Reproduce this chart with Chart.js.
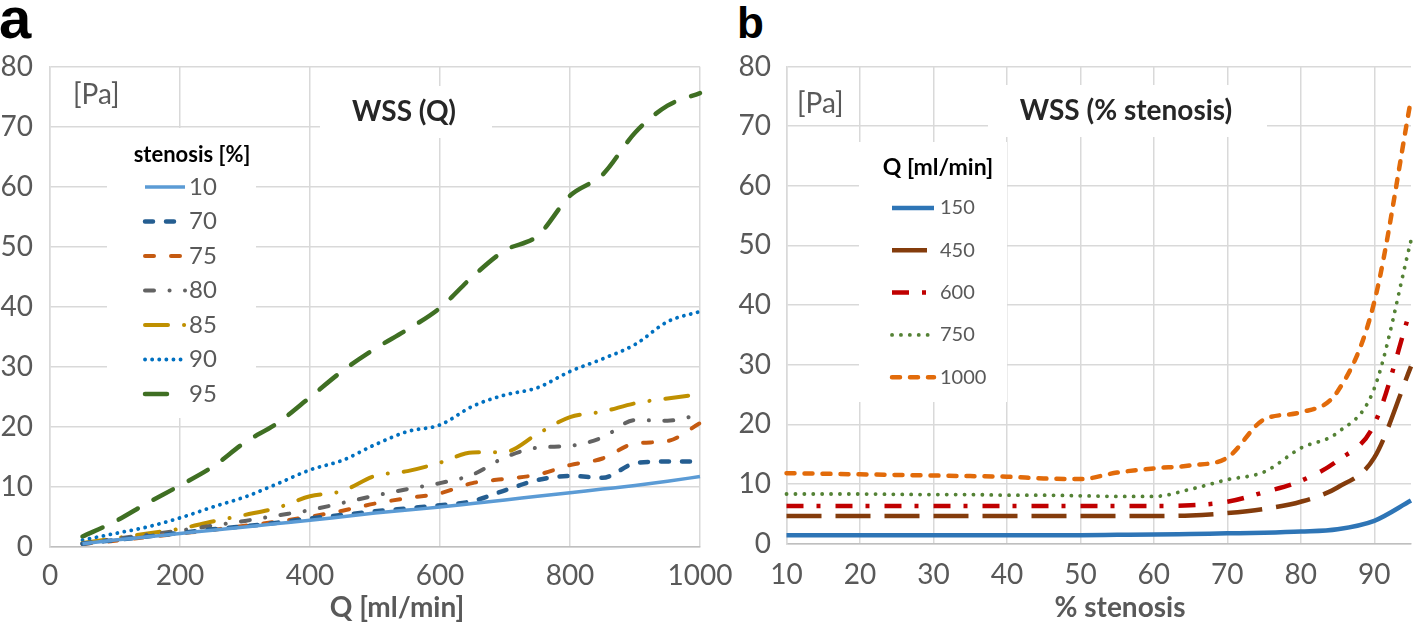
<!DOCTYPE html>
<html><head><meta charset="utf-8">
<script src="https://cdn.jsdelivr.net/npm/chart.js@4.4.1/dist/chart.umd.min.js"></script>
<style>
html,body{margin:0;padding:0;background:#fff;width:1418px;height:624px;overflow:hidden;position:relative}
#wa{position:absolute;left:0;top:0;width:745px;height:624px}
#wb{position:absolute;left:710px;top:0;width:708px;height:624px}
.pl{position:absolute;font-family:"Liberation Sans",Arial,sans-serif;font-weight:bold;color:#000;line-height:1}
</style></head><body>
<div class="pl" style="left:-1px;top:-11px;font-size:58px">a</div>
<div class="pl" style="left:737px;top:1px;font-size:44px">b</div>
<div id="wa"><canvas id="ca"></canvas></div>
<div id="wb"><canvas id="cb"></canvas></div>
<script>
// ---------- Panel a: WSS vs Q ----------
const flowQ = [50,100,150,200,250,300,350,400,450,500,550,600,650,700,750,800,850,900,950,1000];
const sten10 = [0.5,1.1,1.65,2.2,2.75,3.3,3.85,4.4,5.0,5.6,6.1,6.6,7.2,7.8,8.4,9.0,9.6,10.2,10.9,11.7];
const sten70 = [0.5,1.1,1.7,2.3,2.9,3.4,4.0,4.7,5.3,5.9,6.4,6.9,7.6,9.4,11.1,11.8,11.5,13.9,14.2,14.2];
const sten75 = [0.45,1.0,1.6,2.2,2.8,3.5,4.2,5.0,6.0,7.2,8.1,8.9,10.6,11.3,12.0,13.6,14.7,17.2,17.6,20.6];
const sten80 = [0.5,1.3,2.0,2.7,3.5,4.3,5.2,6.1,7.3,8.5,9.6,10.6,12.0,14.9,16.5,16.8,18.2,21.1,21.0,22.0];
const sten85 = [0.6,1.4,2.2,3.0,4.2,5.3,6.5,8.4,9.3,11.8,12.6,14.0,15.7,15.8,18.8,21.6,22.5,23.9,24.7,25.4];
const sten90 = [1.1,2.2,3.3,4.8,6.6,8.3,10.5,12.8,14.4,17.0,19.2,20.3,23.4,25.3,26.5,29.2,31.3,33.7,37.5,39.2];
const sten95 = [1.7,4.2,7.3,10.2,13.3,17.4,20.6,24.9,29.3,33.0,36.2,39.8,45.0,49.4,51.8,58.5,62.0,69.0,73.5,75.6];
const qTicks = [0,200,400,600,800,1000];
const wssTicks = [0,10,20,30,40,50,60,70,80];
const stenosisNames = ['10','70','75','80','85','90','95'];

// ---------- Panel b: WSS vs % stenosis ----------
const pctStenosis = [10,15,20,25,30,35,40,45,50,55,60,65,70,75,80,85,90,95];
const q150  = [1.4,1.4,1.4,1.4,1.4,1.4,1.4,1.4,1.4,1.45,1.5,1.6,1.7,1.8,2.0,2.4,3.8,7.2];
const q450  = [4.6,4.6,4.6,4.6,4.6,4.6,4.6,4.6,4.6,4.6,4.6,4.7,5.1,5.8,7.0,9.4,14.4,29.7];
const q600  = [6.3,6.3,6.3,6.3,6.3,6.3,6.3,6.3,6.3,6.3,6.3,6.4,7.0,8.6,10.5,13.9,20.0,39.5];
const q750  = [8.3,8.3,8.3,8.25,8.2,8.2,8.1,8.1,8.0,7.9,7.9,9.1,10.7,12.0,16.0,18.6,26.0,50.8];
const q1000 = [11.8,11.7,11.6,11.5,11.4,11.3,11.2,10.9,10.8,11.9,12.6,13.1,14.4,20.8,22.0,25.5,40.5,74.5];
const pctTicks = [10,20,30,40,50,60,70,80,90];
const flowNames = ['150','450','600','750','1000'];

const FONT = 'Lato, "Open Sans", sans-serif';
const pts = (xs, ys) => xs.map((x, i) => ({x, y: ys[i]}));

const decor = {
  id: 'decor',
  beforeDatasetsDraw(chart, args, o) {
    const ctx = chart.ctx; ctx.save(); ctx.fillStyle = '#fff';
    o.boxes.forEach(b => ctx.fillRect(b[0], b[1], b[2], b[3]));
    ctx.restore();
  },
  afterDraw(chart, args, o) {
    const ctx = chart.ctx; ctx.save();
    ctx.textBaseline = 'middle';
    ctx.font = 'bold ' + o.titleSize + 'px ' + FONT; ctx.fillStyle = '#262626'; ctx.textAlign = 'center';
    ctx.fillText(o.title, o.titleX, o.titleY);
    ctx.font = '28px ' + FONT; ctx.fillStyle = '#595959'; ctx.textAlign = 'left';
    ctx.fillText(o.unit, o.unitX, o.unitY);
    ctx.font = 'bold 28px ' + FONT; ctx.fillStyle = '#595959'; ctx.textAlign = 'center';
    ctx.fillText(o.axisTitle, o.axisX, o.axisY);
    ctx.font = 'bold ' + o.legTitleSize + 'px ' + FONT; ctx.fillStyle = '#000';
    ctx.fillText(o.legTitle, o.legTitleX, o.legTitleY);
    chart.data.datasets.forEach((ds, i) => {
      const y = o.legY0 + i * o.legDy;
      ctx.save();
      ctx.strokeStyle = ds.borderColor; ctx.lineWidth = ds.borderWidth;
      ctx.setLineDash(ds.borderDash || []); ctx.lineCap = ds.borderCapStyle || 'butt';
      ctx.beginPath(); ctx.moveTo(o.sampleX0, y); ctx.lineTo(o.sampleX1, y); ctx.stroke();
      ctx.restore();
      ctx.font = o.legSize + 'px ' + FONT; ctx.fillStyle = '#595959'; ctx.textAlign = 'left';
      ctx.fillText(ds.label, o.legTextX, y);
    });
    ctx.restore();
  }
};

function ds(label, xs, ys, color, dash, cap, width) {
  return {label, data: pts(xs, ys), borderColor: color, borderWidth: width || 4,
    borderDash: dash, borderCapStyle: cap || 'butt', pointRadius: 0,
    cubicInterpolationMode: 'monotone', fill: false, clip: 6};
}

function axisOpts(tickArr, min, max, fit, tickPad, borderColor) {
  return {
    type: 'linear', min, max,
    afterBuildTicks: s => { s.ticks = tickArr.map(v => ({value: v})); },
    afterFit: fit,
    grid: {color: '#d9d9d9', lineWidth: 1.5, drawTicks: false},
    border: {color: borderColor, width: 1.5},
    ticks: {font: {family: FONT, size: 28}, color: '#595959', padding: tickPad, maxRotation: 0, autoSkip: false,
      callback: v => String(v)}
  };
}

new Chart(document.getElementById('ca'), {
  type: 'line',
  data: {datasets: [
    ds(stenosisNames[0], flowQ, sten10, '#5B9BD5', [], 'butt', 3.5),
    ds(stenosisNames[1], flowQ, sten70, '#255E91', [8, 13], 'round', 4.5),
    ds(stenosisNames[2], flowQ, sten75, '#C55A11', [9, 17], 'round', 4),
    ds(stenosisNames[3], flowQ, sten80, '#636363', [9, 15.5, 0.1, 15.4], 'round', 4),
    ds(stenosisNames[4], flowQ, sten85, '#BF9000', [23, 16, 0.1, 16], 'round', 4),
    ds(stenosisNames[5], flowQ, sten90, '#0070C0', [0.1, 7], 'round', 3.8),
    ds(stenosisNames[6], flowQ, sten95, '#3F6F23', [22, 18], 'round', 4.5)
  ]},
  options: {
    responsive: true, maintainAspectRatio: false, animation: false, devicePixelRatio: 1,
    layout: {padding: {left: 0, top: 66.7, right: 45, bottom: 0}},
    plugins: {legend: {display: false}, tooltip: {enabled: false},
      decor: {
        boxes: [[320, 86, 172, 52], [107, 128, 149, 290]],
        title: 'WSS (Q)', titleSize: 28, titleX: 404, titleY: 112,
        unit: '[Pa]', unitX: 73, unitY: 95,
        axisTitle: 'Q [ml/min]', axisX: 397, axisY: 608,
        legTitle: 'stenosis [%]', legTitleSize: 22, legTitleX: 192, legTitleY: 155,
        legY0: 187, legDy: 34.5, sampleX0: 145, sampleX1: 185, legTextX: 189, legSize: 24
      }},
    scales: {
      x: axisOpts(qTicks, 0, 1000, s => { s.height = 77.3; }, 12, '#bfbfbf'),
      y: axisOpts(wssTicks, 0, 80, s => { s.width = 50; }, 17, '#d9d9d9')
    }
  },
  plugins: [decor]
});

new Chart(document.getElementById('cb'), {
  type: 'line',
  data: {datasets: [
    ds(flowNames[0], pctStenosis, q150, '#2E75B6', [], 'butt', 4.5),
    ds(flowNames[1], pctStenosis, q450, '#843C0C', [35, 14], 'butt', 4.5),
    ds(flowNames[2], pctStenosis, q600, '#C00000', [17, 13, 4, 15], 'butt', 4.5),
    ds(flowNames[3], pctStenosis, q750, '#548235', [0.1, 8.8], 'round', 3.8),
    ds(flowNames[4], pctStenosis, q1000, '#E26B0A', [8, 10], 'round', 4.5)
  ]},
  options: {
    responsive: true, maintainAspectRatio: false, animation: false, devicePixelRatio: 1,
    layout: {padding: {left: 0, top: 66.5, right: 7, bottom: 0}},
    plugins: {legend: {display: false}, tooltip: {enabled: false},
      decor: {
        boxes: [[278, 85, 279, 52], [149, 142, 148, 260]],
        title: 'WSS (% stenosis)', titleSize: 28, titleX: 416, titleY: 111,
        unit: '[Pa]', unitX: 87, unitY: 104,
        axisTitle: '% stenosis', axisX: 410, axisY: 608,
        legTitle: 'Q [ml/min]', legTitleSize: 23, legTitleX: 228, legTitleY: 168,
        legY0: 208, legDy: 42.3, sampleX0: 182, sampleX1: 224, legTextX: 230, legSize: 20
      }},
    scales: {
      x: axisOpts(pctTicks, 10, 95, s => { s.height = 80.5; }, 15, '#bfbfbf'),
      y: axisOpts(wssTicks, 0, 80, s => { s.width = 76.5; }, 15.5, '#d9d9d9')
    }
  },
  plugins: [decor]
});
</script>
</body></html>
